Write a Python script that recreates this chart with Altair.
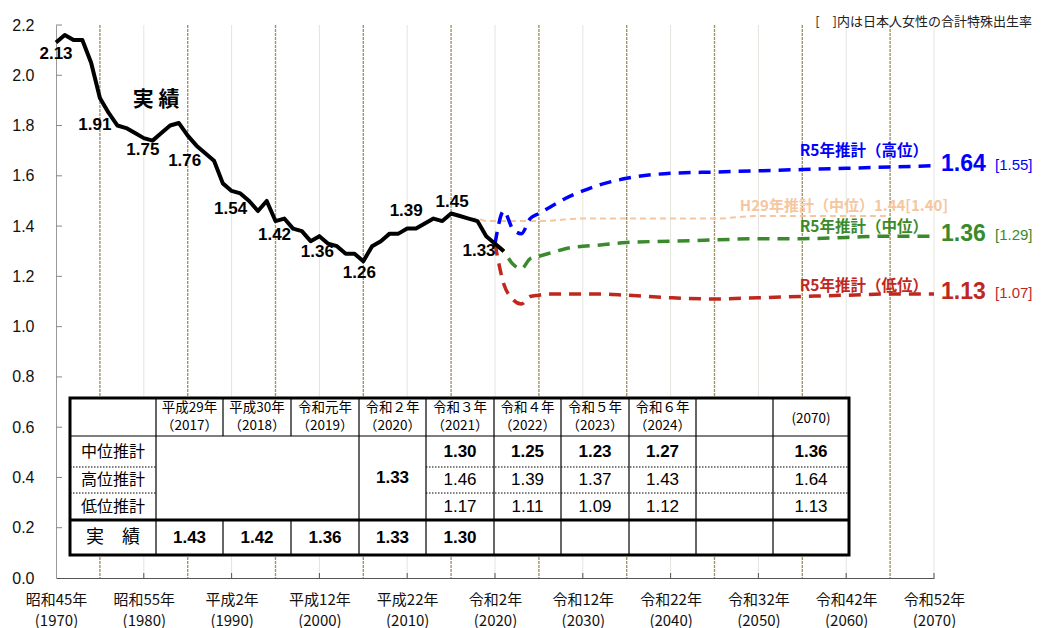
import altair as alt
import pandas as pd

# ---------------- data ----------------
actual_years = list(range(1970, 2022))
actual_values = [2.13, 2.16, 2.14, 2.14, 2.05, 1.91, 1.85, 1.80, 1.79, 1.77,
                 1.75, 1.74, 1.77, 1.80, 1.81, 1.76, 1.72, 1.69, 1.66, 1.57,
                 1.54, 1.53, 1.50, 1.46, 1.50, 1.42, 1.43, 1.39, 1.38, 1.34,
                 1.36, 1.33, 1.32, 1.29, 1.29, 1.26, 1.32, 1.34, 1.37, 1.37,
                 1.39, 1.39, 1.41, 1.43, 1.42, 1.45, 1.44, 1.43, 1.42, 1.36,
                 1.33, 1.30]

r5_years = [2020, 2021, 2022, 2023, 2024, 2025, 2026, 2027, 2028, 2030, 2032, 2035,
            2040, 2045, 2050, 2055, 2060, 2065, 2070]
r5_high = [1.33, 1.46, 1.39, 1.37, 1.43, 1.45, 1.47, 1.49, 1.51, 1.54, 1.565, 1.59,
           1.61, 1.615, 1.62, 1.625, 1.63, 1.635, 1.64]
r5_medium = [1.33, 1.30, 1.25, 1.23, 1.27, 1.28, 1.29, 1.30, 1.31, 1.32, 1.325, 1.335,
             1.34, 1.345, 1.35, 1.35, 1.355, 1.36, 1.36]
r5_low = [1.33, 1.17, 1.11, 1.09, 1.12, 1.125, 1.13, 1.13, 1.13, 1.13, 1.13, 1.125,
          1.115, 1.11, 1.115, 1.12, 1.125, 1.13, 1.13]

h29_years = [2015, 2016, 2017, 2018, 2019, 2020, 2025, 2030, 2035, 2040, 2045, 2050,
             2055, 2060, 2065]
h29_medium = [1.45, 1.44, 1.43, 1.43, 1.42, 1.42, 1.42, 1.43, 1.43, 1.43, 1.43, 1.44,
              1.44, 1.44, 1.44]
h29_japanese_end = 1.40

r5_names = ["R5年推計（高位）", "R5年推計（中位）", "R5年推計（低位）"]
r5_japanese_end = [1.55, 1.29, 1.07]

label_years = [1970, 1975, 1980, 1985, 1990, 1995, 2000, 2005, 2010, 2015, 2020]

axis_years = [1970, 1980, 1990, 2000, 2010, 2020, 2030, 2040, 2050, 2060, 2070]
axis_era = ["昭和45年", "昭和55年", "平成2年", "平成12年", "平成22年", "令和2年",
            "令和12年", "令和22年", "令和32年", "令和42年", "令和52年"]
y_ticks = [0.0, 0.2, 0.4, 0.6, 0.8, 1.0, 1.2, 1.4, 1.6, 1.8, 2.0, 2.2]

table_head_era = ["平成29年", "平成30年", "令和元年", "令和２年", "令和３年",
                  "令和４年", "令和５年", "令和６年"]
table_head_year = ["（2017）", "（2018）", "（2019）", "（2020）", "（2021）",
                   "（2022）", "（2023）", "（2024）"]
table_head_last = "(2070)"
table_row_names = ["中位推計", "高位推計", "低位推計", "実　績"]
table_medium = [1.30, 1.25, 1.23, 1.27, 1.36]
table_high = [1.46, 1.39, 1.37, 1.43, 1.64]
table_low = [1.17, 1.11, 1.09, 1.12, 1.13]
table_2020 = 1.33
table_actual = [1.43, 1.42, 1.36, 1.33, 1.30]

# ---------------- layout / style ----------------
W, H = 878, 553
X_DOM = [1970, 2070]
Y_DOM = [0, 2.2]
PX_X = (X_DOM[1] - X_DOM[0]) / W   # years per pixel
PX_Y = (Y_DOM[1] - Y_DOM[0]) / H   # rate units per pixel
JP = "Noto Sans CJK JP"
LAT = "Liberation Sans, Arial, Noto Sans CJK JP"
series_domain = ["high", "medium", "low", "h29"]
series_range = ["#0000FF", "#3A8A2C", "#C0281E", "#F5C6A0"]
color_scale = alt.Scale(domain=series_domain, range=series_range)

label_dx = [0, -5, -1, -3, -1, -1, -2, -4, -1, 1, -16]
label_dy = [11, 27, 12, 25, 18, 14, 16, 12, -18, -12, 7]
name_dy = [-15, -9, -8]

# table geometry (pixels inside the plot area)
tcols = [14, 100, 167, 235, 303, 370, 438, 505, 573, 640, 717, 793]
trows = [373, 411, 442, 468, 495, 530]

xscale = alt.Scale(domain=X_DOM, nice=False, zero=False)
yscale = alt.Scale(domain=Y_DOM, nice=False, zero=True)

lab_expr = "[" + ",".join(f"['{e}','({y})']" for e, y in zip(axis_era, axis_years)) + \
    "][round((datum.value-1970)/10)]"

x_axis = alt.Axis(values=axis_years, labelExpr=lab_expr, tickSize=0, labelPadding=14,
                  labelFont=JP, labelFontSize=15, labelLineHeight=21, labelColor="#111",
                  domainColor="#555", domainWidth=1, grid=False, title=None,
                  labelFlush=False, labelOverlap=False, labelBound=False)
y_axis = alt.Axis(values=y_ticks, format=".1f", tickSize=0, labelPadding=22,
                  labelFont=LAT, labelFontSize=16, labelColor="#111",
                  domainColor="#999", domainWidth=1, grid=False, title=None)


def X(f="year"):
    return alt.X(f"{f}:Q", scale=xscale, title=None)


def Y(f="value"):
    return alt.Y(f"{f}:Q", scale=yscale, title=None)


# ---------------- frames ----------------
actual_df = pd.DataFrame({"year": actual_years, "value": actual_values})
proj_df = pd.concat([
    pd.DataFrame({"year": r5_years, "value": r5_high, "series": "high"}),
    pd.DataFrame({"year": r5_years, "value": r5_medium, "series": "medium"}),
    pd.DataFrame({"year": r5_years, "value": r5_low, "series": "low"}),
])
h29_df = pd.DataFrame({"year": h29_years, "value": h29_medium, "series": "h29"})

lookup = dict(zip(actual_years, actual_values))
labels_df = pd.DataFrame({"year": label_years,
                          "value": [lookup[y] for y in label_years],
                          "dx": label_dx, "dy": label_dy})

end_df = pd.DataFrame({"series": ["high", "medium", "low"],
                       "year": [r5_years[-1]] * 3,
                       "value": [r5_high[-1], r5_medium[-1], r5_low[-1]],
                       "jp": r5_japanese_end, "name": r5_names, "ndy": name_dy})
h29_end_df = pd.DataFrame({"series": ["h29"], "year": [h29_years[-1]],
                           "value": [h29_medium[-1]], "jp": [h29_japanese_end]})

# gridlines
grid_faint = alt.Chart(pd.DataFrame({"year": axis_years[1:]})).mark_rule(
    color="#E4E4DE", strokeWidth=1).encode(x=X())
grid_olive = alt.Chart(pd.DataFrame({"year": [y + 5 for y in axis_years[:-1]]})).mark_rule(
    color="#A39566", strokeWidth=1.4, strokeDash=[3, 1]).encode(x=X())

# inward ticks
xticks = alt.Chart(pd.DataFrame({"year": axis_years[1:]})).mark_rule(
    color="#555", strokeWidth=1).encode(x=X(), y=alt.value(H), y2=alt.value(H - 5))
yticks = alt.Chart(pd.DataFrame({"value": y_ticks[1:]})).mark_rule(
    color="#888", strokeWidth=1).encode(y=Y(), x=alt.value(0), x2=alt.value(6))

# ---------------- table ----------------
def cx(i):
    return (tcols[i] + tcols[i + 1]) / 2


def cy(r):
    return (trows[r] + trows[r + 1]) / 2


tbl_bg = alt.Chart(pd.DataFrame({"x": [tcols[0]], "x2": [tcols[-1]],
                                 "y": [trows[0]], "y2": [trows[-1]]})).mark_rect(
    fill="white", stroke="black", strokeWidth=3).encode(
    x=alt.X("x:Q", scale=None), x2="x2:Q", y=alt.Y("y:Q", scale=None), y2="y2:Q")

seg_thin, seg_dot, seg_thick = [], [], []
seg_thin.append((tcols[0], trows[1], tcols[-1], trows[1]))
for r in (2, 3):
    seg_dot.append((tcols[0], trows[r], tcols[1], trows[r]))
    seg_dot.append((tcols[5], trows[r], tcols[-1], trows[r]))
seg_thick.append((tcols[0], trows[4], tcols[-1], trows[4]))
for c in range(1, 11):
    if c in (2, 3):
        seg_thin.append((tcols[c], trows[0], tcols[c], trows[1]))
        seg_thin.append((tcols[c], trows[4], tcols[c], trows[5]))
    else:
        seg_thin.append((tcols[c], trows[0], tcols[c], trows[5]))


def seg_layer(segs, **kw):
    df = pd.DataFrame(segs, columns=["x", "y", "x2", "y2"])
    return alt.Chart(df).mark_rule(color="black", **kw).encode(
        x=alt.X("x:Q", scale=None), y=alt.Y("y:Q", scale=None), x2="x2:Q", y2="y2:Q")


tbl_thin = seg_layer(seg_thin, strokeWidth=1.2)
tbl_dot = seg_layer(seg_dot, strokeWidth=1, strokeDash=[1.5, 1.5])
tbl_thick = seg_layer(seg_thick, strokeWidth=3)

hdr_df = pd.DataFrame({"x": [cx(i) for i in range(1, 9)], "y": [cy(0)] * 8,
                       "t1": table_head_era, "t2": table_head_year})
tbl_hdr1 = alt.Chart(hdr_df).mark_text(font=JP, fontSize=13.5, dy=-9, color="black").encode(
    x=alt.X("x:Q", scale=None), y=alt.Y("y:Q", scale=None), text="t1:N")
tbl_hdr2 = alt.Chart(hdr_df).mark_text(font=JP, fontSize=13.5, dy=9, color="black").encode(
    x=alt.X("x:Q", scale=None), y=alt.Y("y:Q", scale=None), text="t2:N")
tbl_hdr_last = alt.Chart(pd.DataFrame({"x": [cx(10)], "y": [cy(0)], "t": [table_head_last]})
                         ).mark_text(font=JP, fontSize=13.5, dy=2, color="black").encode(
    x=alt.X("x:Q", scale=None), y=alt.Y("y:Q", scale=None), text="t:N")

rn_df = pd.DataFrame({"x": [cx(0)] * 3, "y": [cy(1), cy(2), cy(3)], "t": table_row_names[:3]})
tbl_rn = alt.Chart(rn_df).mark_text(font=JP, fontSize=16, color="black").encode(
    x=alt.X("x:Q", scale=None), y=alt.Y("y:Q", scale=None), text="t:N")
act_name_df = pd.DataFrame({"x": [cx(0)], "y": [cy(4)], "t": [table_row_names[3]]})
tbl_actname = alt.Chart(act_name_df).mark_text(font=JP, fontSize=18, color="black").encode(
    x=alt.X("x:Q", scale=None), y=alt.Y("y:Q", scale=None), text="t:N")

proj_cols = [5, 6, 7, 8, 10]
bold_rows = ([(cx(c), cy(1), v) for c, v in zip(proj_cols, table_medium)] +
             [(cx(4), (trows[1] + trows[4]) / 2, table_2020)] +
             [(cx(c), cy(4), v) for c, v in zip([1, 2, 3, 4, 5], table_actual)])
reg_rows = ([(cx(c), cy(2), v) for c, v in zip(proj_cols, table_high)] +
            [(cx(c), cy(3), v) for c, v in zip(proj_cols, table_low)])
bold_df = pd.DataFrame(bold_rows, columns=["x", "y", "v"])
reg_df = pd.DataFrame(reg_rows, columns=["x", "y", "v"])
tbl_bold = alt.Chart(bold_df).mark_text(font=LAT, fontSize=17, fontWeight="bold",
                                        color="black").encode(
    x=alt.X("x:Q", scale=None), y=alt.Y("y:Q", scale=None),
    text=alt.Text("v:Q", format=".2f"))
tbl_reg = alt.Chart(reg_df).mark_text(font=LAT, fontSize=17, color="black").encode(
    x=alt.X("x:Q", scale=None), y=alt.Y("y:Q", scale=None),
    text=alt.Text("v:Q", format=".2f"))

# ---------------- lines ----------------
h29_line = alt.Chart(h29_df).mark_line(strokeWidth=2, strokeDash=[6, 4],
                                       interpolate="monotone").encode(
    x=X(), y=Y(), color=alt.Color("series:N", scale=color_scale, legend=None))
proj_lines = alt.Chart(proj_df).mark_line(strokeWidth=3.5, strokeDash=[12, 8],
                                          interpolate="monotone").encode(
    x=X(), y=Y(), color=alt.Color("series:N", scale=color_scale, legend=None),
    detail="series:N")
actual_line = alt.Chart(actual_df).mark_line(color="black", strokeWidth=4,
                                             strokeJoin="round").encode(
    x=alt.X("year:Q", scale=xscale, axis=x_axis),
    y=alt.Y("value:Q", scale=yscale, axis=y_axis))

# ---------------- labels ----------------
data_labels = alt.Chart(labels_df).transform_calculate(
    lx=f"datum.year + datum.dx * {PX_X}",
    ly=f"datum.value - datum.dy * {PX_Y}",
).mark_text(font=LAT, fontSize=17, fontWeight="bold", color="black").encode(
    x=X("lx"), y=Y("ly"), text=alt.Text("value:Q", format=".2f"))

end_nums = alt.Chart(end_df).mark_text(font=LAT, fontSize=23, fontWeight="bold",
                                       align="left", dx=7, dy=-2).encode(
    x=X(), y=Y(), text=alt.Text("value:Q", format=".2f"),
    color=alt.Color("series:N", scale=color_scale, legend=None))
end_br = alt.Chart(end_df).transform_calculate(
    t="'[' + format(datum.jp, '.2f') + ']'").mark_text(
    font=LAT, fontSize=15, align="left", dx=61, dy=-1).encode(
    x=X(), y=Y(), text="t:N",
    color=alt.Color("series:N", scale=color_scale, legend=None))
end_names = alt.Chart(end_df).transform_calculate(
    ly=f"datum.value - datum.ndy * {PX_Y}"
).mark_text(font=JP, fontSize=15.5, fontWeight="bold", align="right", dx=-6).encode(
    x=X(), y=Y("ly"), text="name:N",
    color=alt.Color("series:N", scale=color_scale, legend=None))
h29_label = alt.Chart(h29_end_df).transform_calculate(
    t="'H29年推計（中位）' + format(datum.value, '.2f') + '[' + format(datum.jp, '.2f') + ']'"
).mark_text(font=JP, fontSize=15, fontWeight="bold", align="right", dx=58, dy=-10).encode(
    x=X(), y=Y(), text="t:N",
    color=alt.Color("series:N", scale=color_scale, legend=None))

note = alt.Chart(pd.DataFrame({"year": [2070], "value": [2.2],
                               "t": ["[　]内は日本人女性の合計特殊出生率"]})).mark_text(
    font=JP, fontSize=13, align="right", dx=98, dy=-3, color="#222").encode(
    x=X(), y=Y(), text="t:N")
jisseki = alt.Chart(pd.DataFrame({"year": [1981.4], "value": [1.9], "t": ["実 績"]})).mark_text(
    font=JP, fontSize=21, fontWeight="bold", color="black").encode(
    x=X(), y=Y(), text="t:N")

chart = alt.layer(
    grid_faint, grid_olive, xticks, yticks,
    tbl_bg, tbl_thin, tbl_dot, tbl_thick, tbl_hdr1, tbl_hdr2, tbl_hdr_last, tbl_rn,
    tbl_actname, tbl_bold, tbl_reg,
    h29_line, proj_lines, actual_line,
    data_labels, end_nums, end_br, end_names, h29_label, note, jisseki,
).properties(
    width=W, height=H,
    autosize=alt.AutoSizeParams(type="none"),
    padding={"left": 56, "top": 25, "right": 1043 - 56 - W, "bottom": 628 - 25 - H},
    background="white",
).configure_view(stroke=None)

chart.save("out.html", embed_options={"renderer": "svg", "actions": False})
